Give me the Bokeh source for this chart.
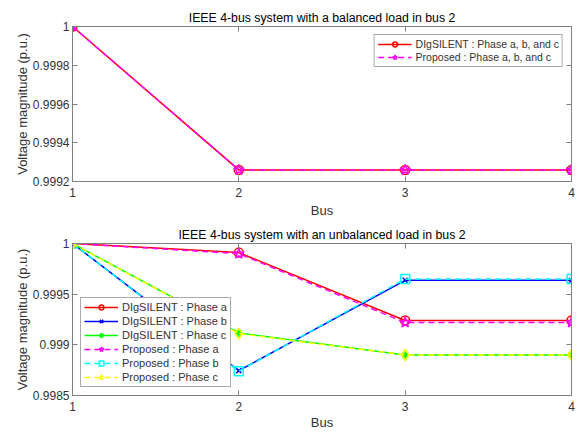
from bokeh.plotting import figure
from bokeh.layouts import column
from bokeh.models import Range1d, FixedTicker, Legend, LegendItem, LinearAxis
from bokeh.embed import file_html
from bokeh.resources import INLINE

bus = [1, 2, 3, 4]
bus_ticks = [1, 2, 3, 4]

bal_dig = [1.0, 0.99926, 0.99926, 0.99926]
bal_prop = [1.0, 0.99926, 0.99926, 0.99926]

dig_a = [1.0, 0.99991, 0.99924, 0.99924]
dig_b = [1.0, 0.998745, 0.999637, 0.999637]
dig_c = [1.0, 0.999118, 0.99890, 0.99890]
prop_a = [1.0, 0.99990, 0.99922, 0.99922]
prop_b = [1.0, 0.99874, 0.99965, 0.99965]
prop_c = [1.0, 0.99911, 0.99890, 0.99890]

top_yticks = [0.9992, 0.9994, 0.9996, 0.9998, 1.0]
top_ylabels = ["0.9992", "0.9994", "0.9996", "0.9998", "1"]
bot_yticks = [0.9985, 0.999, 0.9995, 1.0]
bot_ylabels = ["0.9985", "0.999", "0.9995", "1"]

FONT = "Liberation Sans"
TXT = "#333333"
AX = "#7f7f7f"


def style_axis(ax, label_standoff, title_standoff):
    ax.axis_line_color = AX
    ax.major_tick_line_color = AX
    ax.major_tick_in = 5
    ax.major_tick_out = 0
    ax.minor_tick_line_color = None
    ax.major_label_text_font = FONT
    ax.major_label_text_color = TXT
    ax.major_label_text_font_size = "12px"
    ax.major_label_standoff = label_standoff
    ax.axis_label_text_font = FONT
    ax.axis_label_text_font_size = "13px"
    ax.axis_label_text_font_style = "normal"
    ax.axis_label_text_color = TXT
    ax.axis_label_standoff = title_standoff


def mirror_axis(ticks):
    ax = LinearAxis(ticker=FixedTicker(ticks=[], minor_ticks=ticks))
    ax.axis_line_color = AX
    ax.major_tick_line_color = None
    ax.minor_tick_line_color = AX
    ax.minor_tick_in = 5
    ax.minor_tick_out = 0
    ax.major_label_standoff = 0
    return ax


def make_fig(title, ylo, yhi, yticks, ylabels, fheight, btop, x_title_standoff):
    p = figure(frame_width=499, frame_height=fheight, output_backend="svg",
               toolbar_location=None,
               x_range=Range1d(1, 4), y_range=Range1d(ylo, yhi),
               min_border_left=72, min_border_right=5, min_border_top=btop,
               min_border_bottom=0, title=title)
    p.title.text_font = FONT
    p.title.text_font_size = "12.3px"
    p.title.text_font_style = "normal"
    p.title.text_color = "black"
    p.title.align = "center"
    p.title.standoff = 3
    p.xgrid.visible = False
    p.ygrid.visible = False
    p.outline_line_color = AX
    p.background_fill_color = "white"
    p.border_fill_color = "white"
    p.xaxis.ticker = FixedTicker(ticks=bus_ticks)
    p.yaxis.ticker = FixedTicker(ticks=yticks)
    p.yaxis.major_label_overrides = {t: l for t, l in zip(yticks, ylabels)}
    p.xaxis.axis_label = "Bus"
    p.yaxis.axis_label = "Voltage magnitude (p.u.)"
    style_axis(p.xaxis[0], 6, x_title_standoff)
    style_axis(p.yaxis[0], 3, 0)
    p.add_layout(mirror_axis(bus_ticks), "above")
    p.add_layout(mirror_axis(yticks), "right")
    return p


# Top: balanced
p1 = make_fig("IEEE 4-bus system with a balanced load in bus 2", 0.9992, 1.0,
              top_yticks, top_ylabels, 155, 26, 3)
l1 = p1.line(bus, bal_dig, line_color="#ff0000", line_width=1.5)
s1 = p1.scatter(bus, bal_dig, marker="circle", size=9, fill_color=None,
                line_color="#ff0000", line_width=1.5)
l2 = p1.line(bus, bal_prop, line_color="#ff00ff", line_width=1.5, line_dash="6 4")
s2 = p1.scatter(bus, bal_prop, marker="star", size=11, fill_color=None,
                line_color="#ff00ff", line_width=1.5)
leg1 = Legend(items=[
    LegendItem(label="DIgSILENT : Phase a, b, and c", renderers=[l1, s1]),
    LegendItem(label="Proposed : Phase a, b, and c", renderers=[l2, s2]),
], location="top_right")
p1.add_layout(leg1)

# Bottom: unbalanced
p2 = make_fig("IEEE 4-bus system with an unbalanced load in bus 2", 0.9985, 1.0,
              bot_yticks, bot_ylabels, 152, 23, 1)
series = [
    ("DIgSILENT : Phase a", dig_a, "#ff0000", "circle", None, 9),
    ("DIgSILENT : Phase b", dig_b, "#0000ff", "x", None, 7),
    ("DIgSILENT : Phase c", dig_c, "#00ff00", "asterisk", None, 8),
    ("Proposed : Phase a", prop_a, "#ff00ff", "star", "6 4", 11),
    ("Proposed : Phase b", prop_b, "#00ffff", "square", "6 4", 9),
    ("Proposed : Phase c", prop_c, "#ffff00", "diamond", "6 4", 11),
]
items = []
for label, ys, col, mk, dash, sz in series:
    if dash:
        ln = p2.line(bus, ys, line_color=col, line_width=1.5, line_dash=dash)
    else:
        ln = p2.line(bus, ys, line_color=col, line_width=1.5)
    sc = p2.scatter(bus, ys, marker=mk, size=sz, fill_color=None,
                    line_color=col, line_width=1.5)
    items.append(LegendItem(label=label, renderers=[ln, sc]))
leg2 = Legend(items=items, location="bottom_left")
p2.add_layout(leg2)

for leg in (leg1, leg2):
    leg.label_text_font = FONT
    leg.label_text_font_size = "10.5px"
    leg.label_text_color = TXT
    leg.border_line_color = "#555555"
    leg.background_fill_color = "white"
    leg.background_fill_alpha = 1.0
    leg.glyph_width = 34
    leg.glyph_height = 12
    leg.spacing = 1
    leg.padding = 3
    leg.margin = 8
    leg.label_height = 12
    leg.label_standoff = 4
leg2.label_text_font_size = "11px"
leg2.spacing = 2

layout = column(p1, p2, spacing=0)
open("out.html", "w").write(file_html(layout, INLINE))
